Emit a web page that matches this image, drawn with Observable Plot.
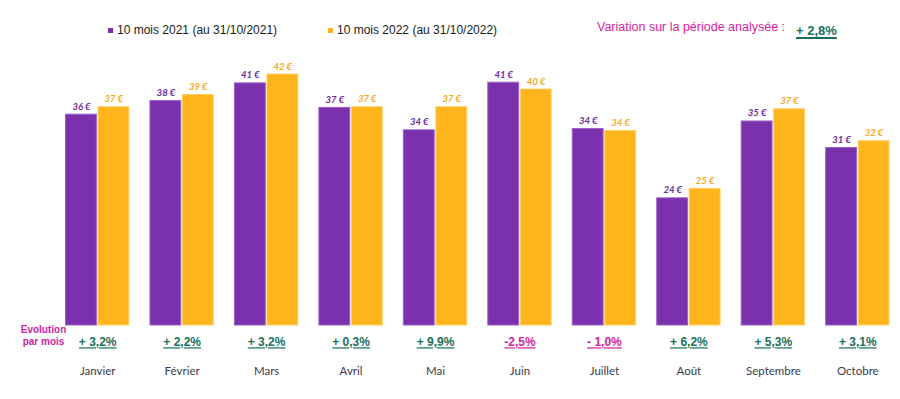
<!DOCTYPE html>
<html>
<head>
<meta charset="utf-8">
<script src="https://cdn.jsdelivr.net/npm/d3@7"></script>
<script src="https://cdn.jsdelivr.net/npm/@observablehq/plot@0.6"></script>
<style>
  body { margin: 0; background: #fff; font-family: "Liberation Sans", Arial, sans-serif; }
  #chart { width: 900px; }
  #header { position: relative; width: 900px; height: 48px; }
  .leg { position: absolute; top: 23px; font-size: 12px; line-height: 14px; color: #1a1a1a; display: flex; align-items: center; white-space: nowrap; }
  .sw { width: 5px; height: 5px; margin-right: 4px; display: inline-block; }
  #variation { position: absolute; left: 597px; top: 20px; font-size: 12.5px; line-height: 15px; color: #d21ea0; white-space: nowrap; }
  #total { position: absolute; left: 796px; top: 23px; font-size: 13px; line-height: 15px; font-weight: bold; color: #17705a; text-decoration: underline; text-decoration-thickness: 1.5px; text-underline-offset: 2px; white-space: nowrap; }
  g[aria-description="evolution"] text { text-decoration: underline; text-decoration-thickness: 1.5px; }
</style>
</head>
<body>
<div id="chart">
  <div id="header"></div>
</div>
<script>
const months = ["Janvier", "Février", "Mars", "Avril", "Mai", "Juin", "Juillet", "Août", "Septembre", "Octobre"];
const seriesNames = ["10 mois 2021 (au 31/10/2021)", "10 mois 2022 (au 31/10/2022)"];
const values2021 = [36.3, 38.3, 40.9, 37.3, 34.0, 41.0, 34.2, 24.0, 35.3, 31.4];
const values2022 = [37.4, 39.2, 42.2, 37.4, 37.4, 40.0, 33.9, 25.4, 37.1, 32.4];
const labels2021 = [36, 38, 41, 37, 34, 41, 34, 24, 35, 31];
const labels2022 = [37, 39, 42, 37, 37, 40, 34, 25, 37, 32];
const evolution = ["+ 3,2%", "+ 2,2%", "+ 3,2%", "+ 0,3%", "+ 9,9%", "-2,5%", "- 1,0%", "+ 6,2%", "+ 5,3%", "+ 3,1%"];
const variationLabel = "Variation sur la période analysée :";
const totalVariation = "+ 2,8%";
const evolutionTitle = ["Evolution\npar mois"];
const yFloor = 5.3;

const purple = "#7b31ae";
const purpleEdge = "#9b62c6";
const yellow = "#fdb51b";
const yellowEdge = "#fdd06a";
const green = "#17705a";
const magenta = "#d21ea0";

const data = months.map((m, i) => ({
  month: m,
  v2021: values2021[i],
  v2022: values2022[i],
  l2021: labels2021[i],
  l2022: labels2022[i],
  evo: evolution[i],
  neg: evolution[i].trim().startsWith("-")
}));

// header legend
const header = document.getElementById("header");
const legLefts = [108, 328];
const legColors = [purple, yellow];
seriesNames.forEach((name, i) => {
  const d = document.createElement("div");
  d.className = "leg";
  d.style.left = legLefts[i] + "px";
  d.innerHTML = `<span class="sw" style="background:${legColors[i]}"></span><span>${name}</span>`;
  header.appendChild(d);
});
const v = document.createElement("div");
v.id = "variation"; v.textContent = variationLabel; header.appendChild(v);
const t = document.createElement("div");
t.id = "total"; t.textContent = totalVariation; header.appendChild(t);

const valueFont = {fontSize: 9.5, fontWeight: "bold", fontStyle: "italic", fontFamily: "Lato"};

const chart = Plot.plot({
  width: 900,
  height: 351,
  marginTop: 7,
  marginBottom: 74,
  marginLeft: 65.5,
  marginRight: 11,
  style: {fontFamily: "Lato", fontSize: "11.5px", color: "#3b3b4b", background: "white", overflow: "visible"},
  x: {domain: months, paddingInner: 0.25, paddingOuter: 0, round: false, label: null, tickSize: 0, tickPadding: 41},
  y: {domain: [yFloor, 45], axis: null},
  marks: [
    Plot.barY(data, {x: "month", y1: () => yFloor, y2: "v2021", insetRight: 32.5, fill: purple, stroke: purpleEdge, strokeWidth: 1}),
    Plot.barY(data, {x: "month", y1: () => yFloor, y2: "v2022", insetLeft: 32.5, fill: yellow, stroke: yellowEdge, strokeWidth: 1}),
    Plot.text(data, {x: "month", y: "v2021", text: d => d.l2021 + " €", dx: -16.2, dy: -5, lineAnchor: "bottom", fill: "#6a2a9e", ...valueFont}),
    Plot.text(data, {x: "month", y: "v2022", text: d => d.l2022 + " €", dx: 16.2, dy: -5, lineAnchor: "bottom", fill: "#f5a81e", ...valueFont}),
    Plot.text(data, {x: "month", text: "evo", frameAnchor: "bottom", lineAnchor: "middle", dy: 17, fill: d => d.neg ? magenta : green, fontSize: 12, fontWeight: "bold", fontFamily: "Liberation Sans", ariaDescription: "evolution"}),
    Plot.text(evolutionTitle, {text: d => d, frameAnchor: "bottom-left", textAnchor: "middle", lineAnchor: "middle", dx: -22.5, dy: 10, fill: magenta, fontSize: 10, fontWeight: "bold", fontFamily: "Liberation Sans", lineHeight: 1.17})
  ]
});
document.getElementById("chart").appendChild(chart);
</script>
</body>
</html>
